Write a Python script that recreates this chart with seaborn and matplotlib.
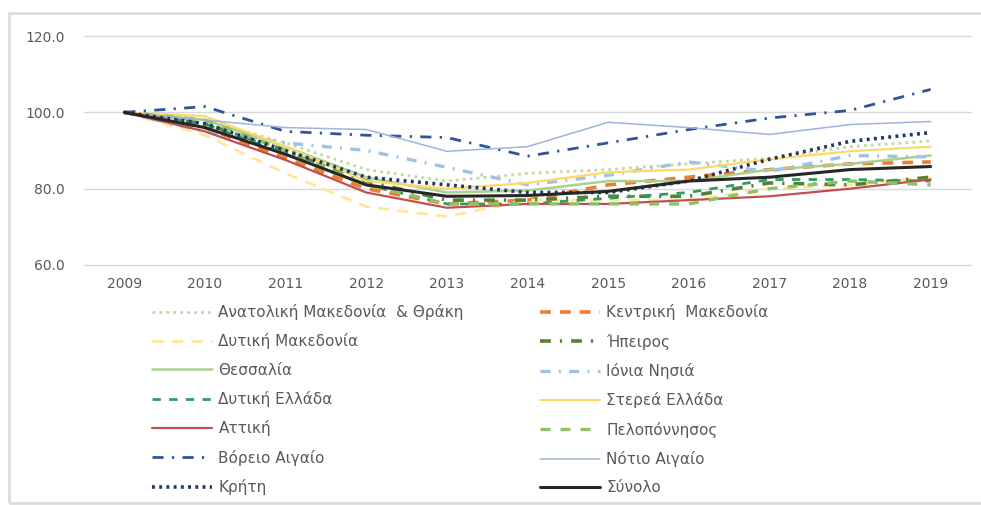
import matplotlib
matplotlib.use("Agg")
import matplotlib.pyplot as plt
import seaborn as sns
import pandas as pd
from matplotlib.patches import Rectangle

years = ["2009", "2010", "2011", "2012", "2013", "2014", "2015", "2016", "2017", "2018", "2019"]

anatoliki = [100, 98.0, 92.0, 85.0, 82.0, 84.0, 85.0, 86.5, 88.0, 91.0, 92.5]
kentriki = [100, 96.0, 88.0, 80.0, 76.0, 77.0, 81.0, 83.0, 85.0, 86.5, 87.0]
dyt_makedonia = [100, 94.0, 84.0, 75.3, 72.7, 77.0, 77.0, 77.0, 80.0, 81.0, 83.0]
ipeiros = [100, 97.0, 90.0, 82.0, 77.0, 77.0, 78.0, 78.0, 81.5, 81.0, 83.0]
thessalia = [100, 98.0, 91.0, 83.0, 79.0, 79.5, 82.0, 82.0, 85.0, 86.5, 88.7]
ionia = [100, 95.0, 92.0, 90.0, 85.6, 81.0, 83.5, 87.0, 84.5, 88.7, 88.3]
dyt_ellada = [100, 97.0, 89.0, 81.0, 76.0, 76.0, 77.5, 79.0, 82.4, 82.4, 82.0]
sterea = [100, 99.0, 91.0, 82.0, 80.0, 81.5, 84.3, 85.0, 87.7, 89.8, 91.0]
attiki = [100, 95.0, 87.5, 79.0, 75.0, 76.0, 76.0, 77.0, 78.0, 80.0, 82.4]
peloponnisos = [100, 98.0, 90.0, 81.0, 76.0, 76.0, 76.0, 76.0, 80.0, 82.0, 81.0]
voreio = [100, 101.5, 95.0, 94.0, 93.4, 88.5, 92.0, 95.5, 98.5, 100.5, 106.0]
notio = [100, 98.0, 96.0, 95.5, 89.8, 91.0, 97.4, 96.0, 94.2, 96.8, 97.6]
kriti = [100, 97.0, 90.0, 83.0, 81.0, 79.0, 79.0, 82.0, 87.7, 92.4, 94.7]
synolo = [100, 96.0, 89.0, 81.0, 78.0, 78.2, 79.3, 82.0, 83.0, 85.0, 85.8]

names = ["Ανατολική Μακεδονία  & Θράκη", "Κεντρική  Μακεδονία", "Δυτική Μακεδονία",
         "Ήπειρος", "Θεσσαλία", "Ιόνια Νησιά", "Δυτική Ελλάδα", "Στερεά Ελλάδα",
         "Αττική", "Πελοπόννησος", "Βόρειο Αιγαίο", "Νότιο Αιγαίο", "Κρήτη", "Σύνολο"]
series = [anatoliki, kentriki, dyt_makedonia, ipeiros, thessalia, ionia, dyt_ellada,
          sterea, attiki, peloponnisos, voreio, notio, kriti, synolo]

styles = [
    dict(color="#C5D89A", ls=(0, (1, 1.5)), lw=2.0),
    dict(color="#ED7D31", ls=(0, (3, 2.5)), lw=2.6),
    dict(color="#FFE699", ls=(0, (4, 3)), lw=2.0),
    dict(color="#548235", ls=(0, (3, 2.5, 0.6, 2.5)), lw=2.6),
    dict(color="#A9D18E", ls="-", lw=1.8),
    dict(color="#9DC3E6", ls=(0, (3, 2.5, 0.6, 2.5)), lw=2.4),
    dict(color="#2E9E5B", ls=(0, (3, 3)), lw=2.0),
    dict(color="#FFD966", ls="-", lw=1.6),
    dict(color="#C0504D", ls="-", lw=1.6),
    dict(color="#8FC16B", ls=(0, (3, 3)), lw=2.4),
    dict(color="#2F5597", ls=(0, (4, 3, 0.8, 3)), lw=2.0),
    dict(color="#9FB4DE", ls="-", lw=1.1),
    dict(color="#203864", ls=(0, (0.8, 1.2)), lw=2.6),
    dict(color="#262626", ls="-", lw=2.2),
]

rows = []
for n, s in zip(names, series):
    for y, v in zip(years, s):
        rows.append({"year": y, "value": v, "region": n})
df = pd.DataFrame(rows)

sns.set_theme(style="white")
plt.rcParams["font.family"] = ["DejaVu Sans"]

fig = plt.figure(figsize=(9.81, 5.05), dpi=100)
ax = fig.add_axes([84 / 981, 1 - 265 / 505, (971 - 84) / 981, (265 - 36) / 505])

handles = {}
for n, st in zip(names, styles):
    sub = df[df["region"] == n]
    sns.lineplot(data=sub, x="year", y="value", ax=ax, color=st["color"],
                 linewidth=st["lw"], sort=False, legend=False)
    line = ax.lines[-1]
    line.set_linestyle(st["ls"])
    handles[n] = line

ax.set_xlim(-0.5, 10.5)
ax.set_ylim(60, 120)
ax.set_yticks([60, 80, 100, 120])
ax.set_yticklabels(["60.0", "80.0", "100.0", "120.0"])
ax.yaxis.grid(True, color="#D9D9D9", linewidth=1.0)
for gl in ax.get_ygridlines():
    gl.set_clip_on(False)
ax.set_axisbelow(True)
for sp in ax.spines.values():
    sp.set_visible(False)
ax.tick_params(axis="both", length=0, colors="#595959", labelsize=10)
ax.tick_params(axis="y", pad=14)
ax.tick_params(axis="x", pad=9)
ax.set_xlabel("")
ax.set_ylabel("")

left_names = names[0::2]
right_names = names[1::2]
common = dict(frameon=False, fontsize=11, handlelength=3.9, labelspacing=0.875,
              handletextpad=0.45, borderaxespad=0, borderpad=0, labelcolor="#595959")
leg1 = fig.legend([handles[n] for n in left_names], left_names,
                  loc="upper left", bbox_to_anchor=(152 / 981, 1 - 304 / 505), **common)
leg2 = fig.legend([handles[n] for n in right_names], right_names,
                  loc="upper left", bbox_to_anchor=(540 / 981, 1 - 304 / 505), **common)

fig.patches.append(Rectangle((9 / 981, 2 / 505), 1.2, 1 - 15 / 505, transform=fig.transFigure,
                             fill=False, edgecolor="#DDDDDD", linewidth=2.0))

fig.savefig("out.png", dpi=100)
